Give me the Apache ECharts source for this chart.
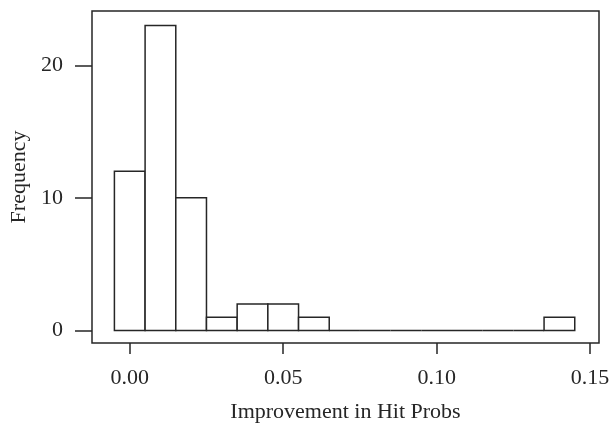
<!DOCTYPE html>
<html>
<head>
<meta charset="utf-8">
<script src="https://cdn.jsdelivr.net/npm/echarts@6/dist/echarts.min.js"></script>
<style>
  html, body { margin: 0; padding: 0; background: #fff; }
  #chart { width: 609px; height: 423px; }
</style>
</head>
<body>
<div id="chart"></div>
<script>
// histogram bins (left edge, right edge) and counts
const binStarts = [-0.005, 0.005, 0.015, 0.025, 0.035, 0.045, 0.055, 0.065, 0.075, 0.085, 0.095, 0.105, 0.115, 0.125, 0.135];
const binWidth = 0.01;
const counts = [12, 23, 10, 1, 2, 2, 1, 0, 0, 0, 0, 0, 0, 0, 1];
const xTicks = [0, 0.05, 0.10, 0.15];
const yTicks = [0, 10, 20];

const font = 'Liberation Serif';
const ink = '#262626';

const bins = binStarts.map((s, i) => [s, s + binWidth, counts[i]]);

const chart = echarts.init(document.getElementById('chart'), null, { renderer: 'canvas', devicePixelRatio: 1 });

chart.setOption({
  animation: false,
  grid: {
    left: 92, right: 10, top: 11, bottom: 80,
    containLabel: false, outerBoundsMode: 'none',
    show: true, borderColor: ink, borderWidth: 1.5, backgroundColor: 'transparent'
  },
  xAxis: {
    type: 'value',
    min: -0.0123,
    max: 0.1529,
    name: 'Improvement in Hit Probs',
    nameLocation: 'middle',
    nameGap: 58,
    nameTextStyle: { fontFamily: font, fontSize: 22, color: ink },
    axisLine: { show: false, onZero: false },
    axisTick: { show: true, inside: false, length: 11, customValues: xTicks, lineStyle: { color: ink, width: 1.5 } },
    axisLabel: {
      customValues: xTicks,
      margin: 24,
      fontFamily: font, fontSize: 22, color: ink,
      formatter: v => v.toFixed(2)
    },
    splitLine: { show: false }
  },
  yAxis: {
    type: 'value',
    min: -0.95,
    max: 24.1,
    name: 'Frequency',
    nameLocation: 'middle',
    nameGap: 57,
    nameTextStyle: { fontFamily: font, fontSize: 22, color: ink },
    axisLine: { show: false, onZero: false },
    axisTick: { show: true, inside: false, length: 17, customValues: yTicks, lineStyle: { color: ink, width: 1.5 } },
    axisLabel: {
      customValues: yTicks,
      margin: 29,
      fontFamily: font, fontSize: 22, color: ink
    },
    splitLine: { show: false }
  },
  series: [{
    type: 'custom',
    data: bins,
    renderItem: function (params, api) {
      const p0 = api.coord([api.value(0), 0]);
      const p1 = api.coord([api.value(1), api.value(2)]);
      return {
        type: 'rect',
        shape: { x: p0[0], y: p1[1], width: p1[0] - p0[0], height: p0[1] - p1[1] },
        style: { fill: '#fff', stroke: ink, lineWidth: 1.5 }
      };
    }
  }]
});
</script>
</body>
</html>
